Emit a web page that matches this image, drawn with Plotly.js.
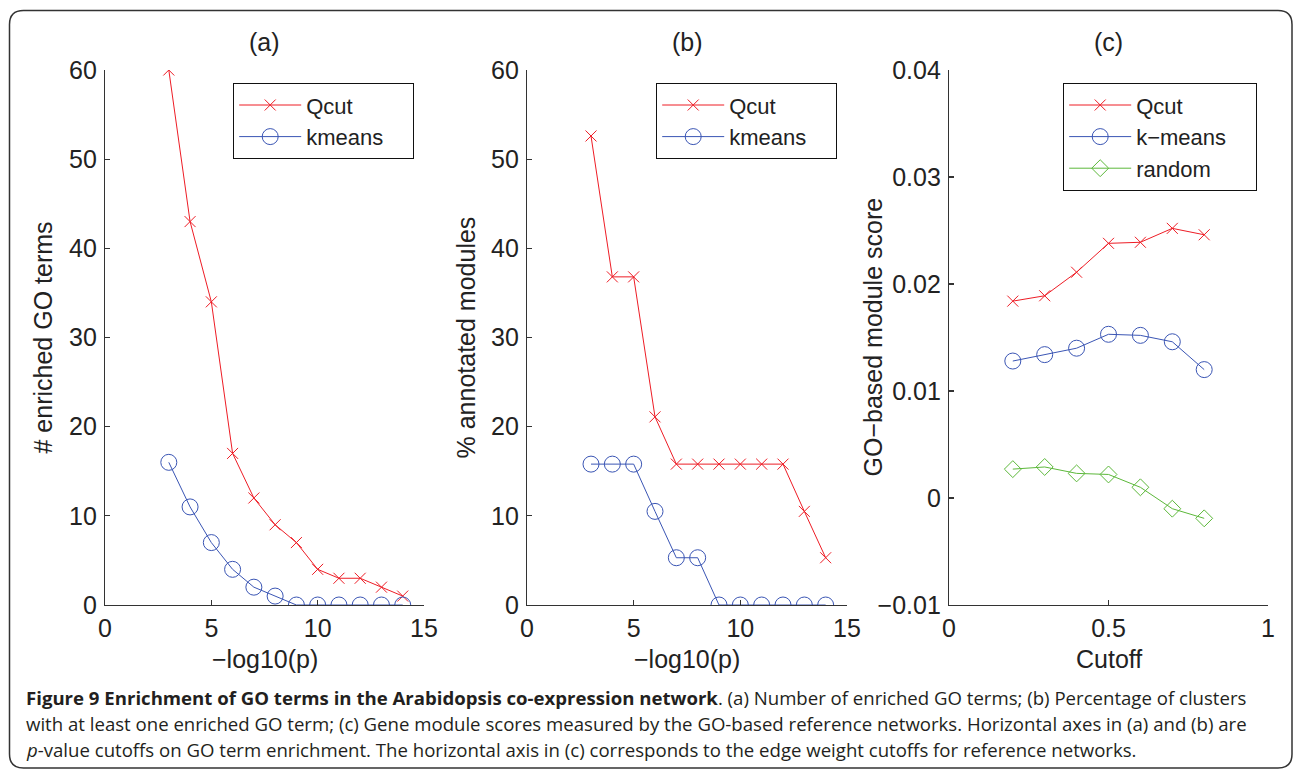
<!DOCTYPE html>
<html><head><meta charset="utf-8">
<script src="https://cdn.plot.ly/plotly-3.0.1.min.js"></script>
<style>html,body{margin:0;padding:0;background:#fff}#chart{width:1293px;height:770px}</style>
</head><body><div id="chart"></div><script>
// ---- data ----
const xP = [3,4,5,6,7,8,9,10,11,12,13,14];
const aQcut = [60,43,34,17,12,9,7,4,3,3,2,1];
const aKmeans = [16,11,7,4,2,1,0,0,0,0,0,0];
const bQcut = [52.6,36.8,36.8,21.1,15.8,15.8,15.8,15.8,15.8,15.8,10.5,5.3];
const bKmeans = [15.8,15.8,15.8,10.5,5.3,5.3,0,0,0,0,0,0];
const xCut = [0.2,0.3,0.4,0.5,0.6,0.7,0.8];
const cQcut = [0.0184,0.0189,0.0211,0.0238,0.0239,0.0252,0.0246];
const cKmeans = [0.0128,0.0134,0.0140,0.0153,0.0152,0.0146,0.0120];
const cRandom = [0.0027,0.0029,0.0023,0.0022,0.0010,-0.0010,-0.0019];
const panelTitles = ['(a)','(b)','(c)'];
const xTitles = ['\u2212log10(p)','\u2212log10(p)','Cutoff'];
const yTitles = ['# enriched GO terms','% annotated modules','GO\u2212based module score'];
const seriesNamesAB = ['Qcut', 'kmeans'];
const seriesNamesC = ['Qcut', 'k\u2212means', 'random'];
const captionLines = [
  '<b>Figure 9 Enrichment of GO terms in the Arabidopsis co-expression network</b>. (a) Number of enriched GO terms; (b) Percentage of clusters',
  'with at least one enriched GO term; (c) Gene module scores measured by the GO-based reference networks. Horizontal axes in (a) and (b) are',
  '<i>p</i>-value cutoffs on GO term enrichment. The horizontal axis in (c) corresponds to the edge weight cutoffs for reference networks.'
];

// ---- style ----
const W = 1293, H = 770;
const px = v => v / W, py = v => 1 - v / H;
const RED = '#ee1c25', BLUE = '#3a55b4', GREEN = '#5cb83a';
const FONT = 'Liberation Sans, Arial, Helvetica, sans-serif';
const FS = 25;
const TXT = '#222';
const PAD = '\u00a0\u00a0\u00a0\u00a0';  // legend box right padding

function qTrace(x, y, xa, ya, leg, name) {
  return {x, y, xaxis: xa, yaxis: ya, legend: leg, name, mode: 'lines+markers',
    line: {color: RED, width: 1}, marker: {symbol: 'x-thin-open', size: 11, color: RED, line: {color: RED, width: 1}}};
}
function kTrace(x, y, xa, ya, leg, name) {
  return {x, y, xaxis: xa, yaxis: ya, legend: leg, name, mode: 'lines+markers',
    line: {color: BLUE, width: 1}, marker: {symbol: 'circle-open', size: 16, color: BLUE, line: {color: BLUE, width: 1}}};
}
const traces = [
  qTrace(xP, aQcut, 'x', 'y', 'legend', seriesNamesAB[0]),
  kTrace(xP, aKmeans, 'x', 'y', 'legend', seriesNamesAB[1] + PAD),
  qTrace(xP, bQcut, 'x2', 'y2', 'legend2', seriesNamesAB[0]),
  kTrace(xP, bKmeans, 'x2', 'y2', 'legend2', seriesNamesAB[1] + PAD),
  qTrace(xCut, cQcut, 'x3', 'y3', 'legend3', seriesNamesC[0]),
  kTrace(xCut, cKmeans, 'x3', 'y3', 'legend3', seriesNamesC[1] + PAD),
  {x: xCut, y: cRandom, xaxis: 'x3', yaxis: 'y3', legend: 'legend3', name: seriesNamesC[2], mode: 'lines+markers',
   line: {color: GREEN, width: 1}, marker: {symbol: 'diamond-open', size: 13, color: GREEN, line: {color: GREEN, width: 1}}}
];

const xDomains = [[105,424],[527,847],[949,1268]];
const yDom = [py(605), py(70)];
function xAxis(d, range, dtick, anchor) {
  return {domain: [px(d[0]), px(d[1])], anchor, range, dtick, tick0: 0, showgrid: false, zeroline: false,
    showline: true, linecolor: '#333', linewidth: 1.2, ticks: 'inside', ticklen: 5, tickcolor: '#333', tickwidth: 1.2,
    tickfont: {family: FONT, size: FS, color: TXT}, ticklabelstandoff: 1, fixedrange: true};
}
function yAxis(anchor, range, dtick) {
  return {domain: yDom, anchor, range, dtick, tick0: 0, showgrid: false, zeroline: false,
    showline: true, linecolor: '#333', linewidth: 1.2, ticks: 'inside', ticklen: 5, tickcolor: '#333', tickwidth: 1.2,
    tickfont: {family: FONT, size: FS, color: TXT}, ticklabelstandoff: 2, fixedrange: true};
}
function legendAt(x, y) {
  return {x: px(x), y: py(y), xanchor: 'left', yanchor: 'top', bgcolor: '#fff', bordercolor: '#111', borderwidth: 1.2,
    font: {family: FONT, size: 22, color: TXT}, itemwidth: 62,
    itemclick: false, itemdoubleclick: false, tracegroupgap: 0};
}

const annotations = [];
const xCenters = xDomains.map(d => (d[0] + d[1]) / 2);
const yTitleX = [42, 465, 872];
for (let i = 0; i < 3; i++) {
  annotations.push({xref: 'paper', yref: 'paper', x: px(xCenters[i]), y: py(42), text: panelTitles[i], showarrow: false,
    xanchor: 'center', yanchor: 'middle', font: {family: FONT, size: FS, color: TXT}});
  annotations.push({xref: 'paper', yref: 'paper', x: px(xCenters[i]), y: py(659), text: xTitles[i], showarrow: false,
    xanchor: 'center', yanchor: 'middle', font: {family: FONT, size: FS, color: TXT}});
  annotations.push({xref: 'paper', yref: 'paper', x: px(yTitleX[i]), y: py(337.5), text: yTitles[i], showarrow: false,
    textangle: -90, xanchor: 'center', yanchor: 'middle', font: {family: FONT, size: FS, color: TXT}});
}
const capY = [697, 723, 749];
for (let i = 0; i < 3; i++) {
  annotations.push({xref: 'paper', yref: 'paper', x: px(24), y: py(capY[i]), text: captionLines[i], showarrow: false,
    xanchor: 'left', yanchor: 'middle', align: 'left', font: {family: 'Open Sans, Noto Sans, sans-serif', size: 18.6, color: '#231f20'}});
}

// rounded border
const L = 9.5, T = 10.5, R = 1292, B = 768, RAD = 14;
const P = (x, y) => px(x) + ',' + py(y);
const borderPath = 'M' + P(L + RAD, T) + ' L' + P(R - RAD, T) + ' Q' + P(R, T) + ' ' + P(R, T + RAD) +
  ' L' + P(R, B - RAD) + ' Q' + P(R, B) + ' ' + P(R - RAD, B) + ' L' + P(L + RAD, B) + ' Q' + P(L, B) + ' ' + P(L, B - RAD) +
  ' L' + P(L, T + RAD) + ' Q' + P(L, T) + ' ' + P(L + RAD, T) + ' Z';

const layout = {
  width: W, height: H, margin: {l: 0, r: 0, t: 0, b: 0}, paper_bgcolor: '#fff', plot_bgcolor: 'rgba(0,0,0,0)',
  xaxis: xAxis(xDomains[0], [0, 15], 5, 'y'), yaxis: yAxis('x', [0, 60], 10),
  xaxis2: xAxis(xDomains[1], [0, 15], 5, 'y2'), yaxis2: yAxis('x2', [0, 60], 10),
  xaxis3: xAxis(xDomains[2], [0, 1], 0.5, 'y3'), yaxis3: yAxis('x3', [-0.01, 0.04], 0.01),
  legend: legendAt(233, 83), legend2: legendAt(656, 83), legend3: legendAt(1063, 83),
  annotations,
  shapes: [{type: 'path', xref: 'paper', yref: 'paper', path: borderPath, line: {color: '#333', width: 1.5}, fillcolor: 'rgba(0,0,0,0)'}],
  showlegend: true
};

Plotly.newPlot('chart', traces, layout, {displayModeBar: false, staticPlot: true});
</script></body></html>
